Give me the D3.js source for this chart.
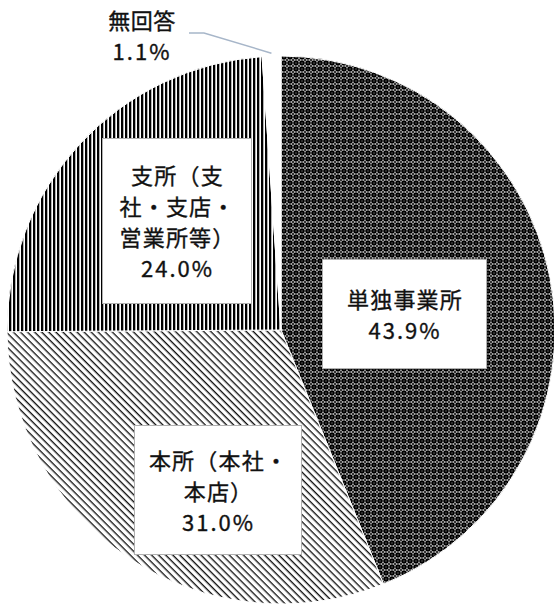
<!DOCTYPE html>
<html>
<head>
<meta charset="utf-8">
<script src="https://cdn.jsdelivr.net/npm/d3@7"></script>
<style>
  body { margin: 0; background: #fff; }
  text { font-family: "Noto Sans CJK JP", "Noto Sans", sans-serif; fill: #111; stroke: #111; stroke-width: 0.35px; }
</style>
</head>
<body>
<svg id="chart" width="554" height="605"></svg>
<script>
// Survey answers: type of establishment (share of respondents, %)
const categories = ["単独事業所", "本所（本社・本店）", "支所（支社・支店・営業所等）", "無回答"];
const values = [43.9, 31.0, 24.0, 1.1];
// How each category name breaks into lines inside its label
const labelLines = [
  ["単独事業所"],
  ["本所（本社・", "本店）"],
  ["支所（支", "社・支店・", "営業所等）"],
  ["無回答"]
];

const svg = d3.select("#chart");
const cx = 281, cy = 330, R = 274;

// ---- fill patterns ----
const defs = svg.append("defs");

// dark "sphere" lattice
const pDots = defs.append("pattern").attr("id", "p-lattice")
  .attr("patternUnits", "userSpaceOnUse").attr("width", 6).attr("height", 6);
pDots.append("rect").attr("width", 6).attr("height", 6).attr("fill", "#fff");
pDots.append("circle").attr("cx", 3).attr("cy", 3).attr("r", 2.8).attr("fill", "#000");
[[0,0],[6,0],[0,6],[6,6]].forEach(([x, y]) =>
  pDots.append("circle").attr("cx", x).attr("cy", y).attr("r", 1.1).attr("fill", "#000"));
pDots.append("circle").attr("cx", 3).attr("cy", 3).attr("r", 0.7).attr("fill", "#777");

// downward diagonal stripes
const pDiag = defs.append("pattern").attr("id", "p-diag")
  .attr("patternUnits", "userSpaceOnUse").attr("width", 10).attr("height", 5)
  .attr("patternTransform", "rotate(45)");
pDiag.append("rect").attr("width", 10).attr("height", 5).attr("fill", "#fff");
pDiag.append("rect").attr("y", 0).attr("width", 10).attr("height", 1.35).attr("fill", "#111");

// dense vertical stripes
const pVert = defs.append("pattern").attr("id", "p-vert")
  .attr("patternUnits", "userSpaceOnUse").attr("width", 4).attr("height", 10);
pVert.append("rect").attr("width", 4).attr("height", 10).attr("fill", "#fff");
pVert.append("rect").attr("x", 0).attr("width", 2.3).attr("height", 10).attr("fill", "#000");

const fills = ["url(#p-lattice)", "url(#p-diag)", "url(#p-vert)", "#fff"];

// ---- pie ----
const pie = d3.pie().value(d => d).sort(null);
const arcs = pie(values);
const arc = d3.arc().innerRadius(0).outerRadius(R);

const g = svg.append("g").attr("transform", `translate(${cx},${cy})`);
g.selectAll("path.slice")
  .data(arcs)
  .join("path")
  .attr("class", "slice")
  .attr("d", arc)
  .attr("fill", (d, i) => fills[i])
  .attr("stroke", "#fff")
  .attr("stroke-width", 1);

// ---- labels ----
const fmt = v => d3.format(".1f")(v) + "%";
const lineGap = 31;
const fontSize = 22;

// label boxes for the three large slices
const boxes = [
  { x: 322, y: 259, w: 164, h: 109 },
  { x: 134, y: 425, w: 167, h: 129 },
  { x: 102, y: 138, w: 149, h: 165 }
];

boxes.forEach((b, i) => {
  const lines = labelLines[i].concat([fmt(values[i])]);
  const lg = svg.append("g");
  lg.append("rect")
    .attr("x", b.x + 0.5).attr("y", b.y + 0.5)
    .attr("width", b.w).attr("height", b.h)
    .attr("fill", "#fff").attr("stroke", "#b0b0b0").attr("stroke-width", 1);
  const midX = b.x + b.w / 2 + 1;
  const midY = b.y + b.h / 2;
  const top = midY - (lines.length - 1) * lineGap / 2;
  lines.forEach((t, k) => {
    lg.append("text")
      .attr("x", midX).attr("y", top + k * lineGap)
      .attr("text-anchor", "middle")
      .attr("dominant-baseline", "central")
      .attr("font-size", fontSize)
      .style("letter-spacing", k === lines.length - 1 ? "2px" : "1.2px")
      .text(t);
  });
});

// small slice: label outside with a leader line
const small = arcs[3];
const midA = (small.startAngle + small.endAngle) / 2;
const tip = [cx + (R + 3) * Math.sin(midA), cy - (R + 3) * Math.cos(midA)];
const lblX = 142;
svg.append("text").attr("x", lblX).attr("y", 19)
  .attr("text-anchor", "middle").attr("dominant-baseline", "central")
  .attr("font-size", fontSize).style("letter-spacing", "0.5px")
  .text(labelLines[3][0]);
svg.append("text").attr("x", lblX).attr("y", 50)
  .attr("text-anchor", "middle").attr("dominant-baseline", "central")
  .attr("font-size", fontSize).style("letter-spacing", "2px")
  .text(fmt(values[3]));
svg.append("path")
  .attr("d", d3.line()([[189, 33], [204, 33], tip]))
  .attr("fill", "none")
  .attr("stroke", "#a7b6c9")
  .attr("stroke-width", 1.5);
</script>
</body>
</html>
